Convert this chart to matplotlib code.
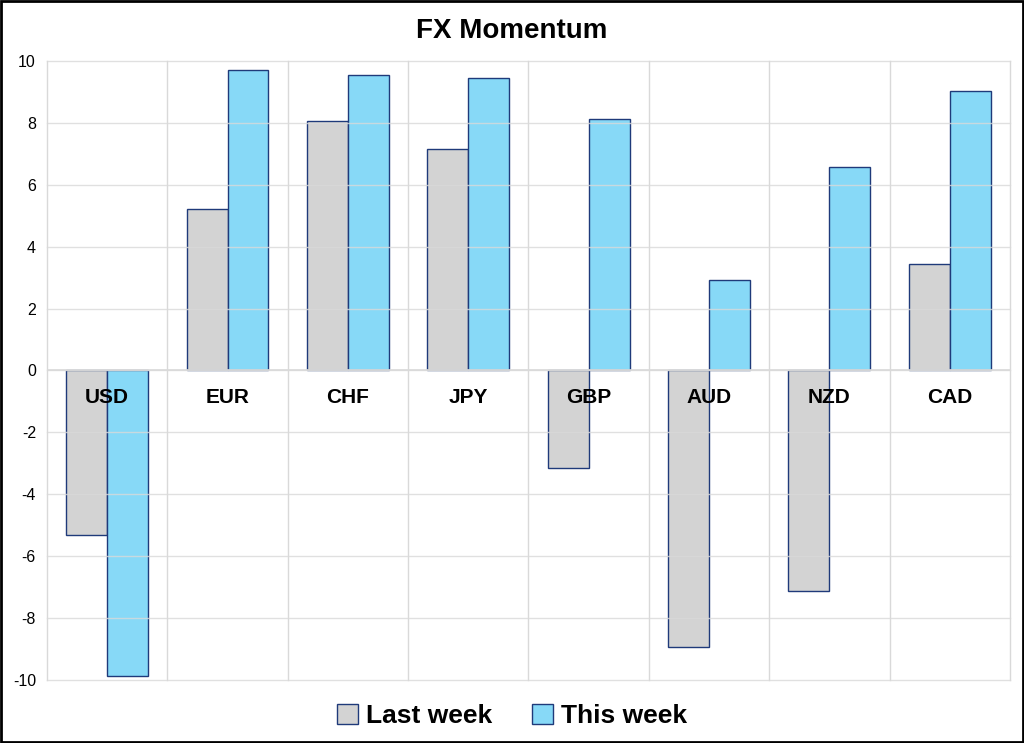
import numpy as np
import matplotlib.pyplot as plt
from matplotlib.patches import Rectangle

plt.rcParams['font.family'] = ['Liberation Sans', 'DejaVu Sans']
plt.rcParams['axes.unicode_minus'] = False

# data
currencies = ['USD', 'EUR', 'CHF', 'JPY', 'GBP', 'AUD', 'NZD', 'CAD']
last_week = [-5.31, 5.22, 8.06, 7.16, -3.15, -8.93, -7.12, 3.44]
this_week = [-9.87, 9.71, 9.55, 9.45, 8.13, 2.92, 6.58, 9.03]

fig = plt.figure(figsize=(10.24, 7.43), dpi=100)
ax = fig.add_axes([0.0459, 0.0848, 0.9404, 0.8331])

x = np.arange(len(currencies))
w = 0.34
edge = '#1F3A7A'
ax.bar(x - w/2, last_week, w, color='#D3D3D3', edgecolor=edge, linewidth=1, zorder=2, label='Last week')
ax.bar(x + w/2, this_week, w, color='#87D9F7', edgecolor=edge, linewidth=1, zorder=2, label='This week')

ax.set_xlim(-0.5, len(currencies) - 0.5)
ax.set_ylim(-10, 10)
ax.set_yticks(range(-10, 11, 2))
ax.set_xticks([])
# vertical separators between categories
for b in np.arange(-0.5, len(currencies), 1):
    ax.axvline(b, color='#D9D9D9', lw=1, zorder=3, clip_on=False)
for yv in range(-10, 11, 2):
    ax.axhline(yv, color='#D9D9D9', lw=1, zorder=3, alpha=0.8, clip_on=False)
ax.axhline(0, color='#D9D9D9', lw=1.2, zorder=3)

for i, c in enumerate(currencies):
    ax.text(i, -0.55, c, ha='center', va='top', fontsize=15, fontweight='bold', zorder=4)

for s in ax.spines.values():
    s.set_visible(False)
ax.tick_params(axis='y', length=0, labelsize=11.5, pad=8)

fig.text(0.5, 0.958, 'FX Momentum', ha='center', va='center', fontsize=20, fontweight='bold')

fig.legend(loc='center', bbox_to_anchor=(0.5, 0.036), ncol=2, frameon=False,
           prop={'size': 19, 'weight': 'bold'}, handlelength=0.8, handleheight=0.8,
           handletextpad=0.3, columnspacing=1.5)

fig.patches.append(Rectangle((0.001, 0.001), 0.998, 0.998, transform=fig.transFigure,
                             fill=False, edgecolor='black', lw=2))

fig.savefig('out.png', dpi=100)
